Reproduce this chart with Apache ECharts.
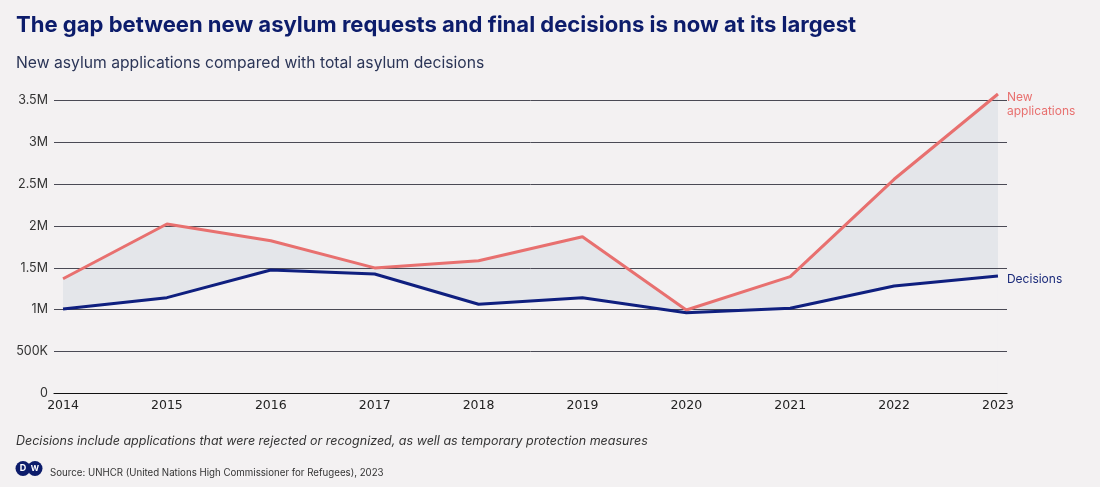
<!DOCTYPE html>
<html>
<head>
<meta charset="utf-8">
<script src="https://cdn.jsdelivr.net/npm/echarts@6/dist/echarts.min.js"></script>
<style>
html,body{margin:0;padding:0;background:#f3f1f2;}
#c{width:1100px;height:487px;}
</style>
</head>
<body>
<div id="c"></div>
<script>
// Data (values in millions)
const years = [2014, 2015, 2016, 2017, 2018, 2019, 2020, 2021, 2022, 2023];
const newApplications = [1.37, 2.025, 1.825, 1.50, 1.586, 1.873, 0.996, 1.395, 2.56, 3.58];
const decisions = [1.008, 1.144, 1.475, 1.427, 1.065, 1.144, 0.964, 1.017, 1.283, 1.403];
const yTicks = [0, 0.5, 1, 1.5, 2, 2.5, 3, 3.5];
const yTickLabels = ['0', '500K', '1M', '1.5M', '2M', '2.5M', '3M', '3.5M'];

const titleText = 'The gap between new asylum requests and final decisions is now at its largest';
const subtitleText = 'New asylum applications compared with total asylum decisions';
const noteText = 'Decisions include applications that were rejected or recognized, as well as temporary protection measures';
const sourceText = 'Source: UNHCR (United Nations High Commissioner for Refugees), 2023';

const RED = '#e8706f';
const NAVY = '#0f1f7f';
const BG = '#f3f1f2';
const BAND = '#e4e6ea';
const FONT = 'Inter, "Noto Sans", sans-serif';

const appPairs = years.map((y, i) => [y, newApplications[i]]);
const decPairs = years.map((y, i) => [y, decisions[i]]);

const chart = echarts.init(document.getElementById('c'), null, {renderer: 'canvas'});
const pad = 0.087;
chart.setOption({
  backgroundColor: BG,
  animation: false,
  textStyle: {fontFamily: FONT},
  title: [
    {text: titleText, left: 16, top: 14, padding: 0, textStyle: {fontFamily: FONT, fontSize: 22.05, fontWeight: 'bold', color: '#0c1c6b'}},
    {text: subtitleText, left: 16, top: 55, padding: 0, textStyle: {fontFamily: FONT, fontSize: 15.7, fontWeight: 'normal', color: '#2b3557'}},
    {text: noteText, left: 16, top: 435, padding: 0, textStyle: {fontFamily: FONT, fontSize: 12.5, fontStyle: 'italic', fontWeight: 'normal', color: '#333'}},
    {text: sourceText, left: 50, top: 468, padding: 0, textStyle: {fontFamily: FONT, fontSize: 9.7, fontWeight: 'normal', color: '#333'}}
  ],
  graphic: [
    {type: 'circle', shape: {cx: 23, cy: 468.5, r: 7.5}, style: {fill: '#0c1c6b'}},
    {type: 'circle', shape: {cx: 35, cy: 468.5, r: 7.5}, style: {fill: '#0c1c6b'}},
    {type: 'text', x: 23, y: 468.5, style: {text: 'D', fill: '#fff', font: 'bold 9px ' + FONT, align: 'center', verticalAlign: 'middle'}},
    {type: 'text', x: 35, y: 468.5, style: {text: 'W', fill: '#fff', font: 'bold 8px ' + FONT, align: 'center', verticalAlign: 'middle'}}
  ],
  grid: {left: 54, right: 93, top: 100.7, bottom: 93.7, containLabel: false},
  xAxis: {
    type: 'value',
    min: years[0] - pad,
    max: years[years.length - 1] + pad,
    z: 2,
    axisLine: {show: true, lineStyle: {color: '#111', width: 1.2}},
    axisTick: {show: false},
    splitLine: {show: false},
    axisLabel: {
      customValues: years,
      formatter: v => String(v),
      color: '#222', fontSize: 12.5, fontFamily: '"DejaVu Sans", sans-serif', margin: 6
    }
  },
  yAxis: {
    type: 'value',
    min: 0, max: 3.5, interval: 0.5,
    z: 2,
    axisLine: {show: false},
    axisTick: {show: false},
    splitLine: {show: true, lineStyle: {color: '#4a4a55', width: 1}},
    axisLabel: {
      formatter: v => { const i = yTicks.findIndex(t => Math.abs(t - v) < 1e-9); return i >= 0 ? yTickLabels[i] : ''; },
      color: '#333', fontSize: 12.5, margin: 6
    }
  },
  series: [
    {type: 'line', name: 'bandTop', data: appPairs, symbol: 'none', clip: false, lineStyle: {opacity: 0},
     areaStyle: {color: BAND, opacity: 1}, z: 1, silent: true},
    {type: 'line', name: 'bandBottom', data: decPairs, symbol: 'none', clip: false, lineStyle: {opacity: 0},
     areaStyle: {color: BG, opacity: 1}, z: 1, silent: true},
    {type: 'line', name: 'New applications', data: appPairs, symbol: 'none', z: 3, clip: false,
     lineStyle: {color: RED, width: 3}, itemStyle: {color: RED},
     endLabel: {show: true, formatter: 'New\napplications', color: RED, fontSize: 12, lineHeight: 14, align: 'left', offset: [1, 10], fontFamily: FONT}},
    {type: 'line', name: 'Decisions', data: decPairs, symbol: 'none', z: 3, clip: false,
     lineStyle: {color: NAVY, width: 3}, itemStyle: {color: NAVY},
     endLabel: {show: true, formatter: 'Decisions', color: '#1a2a7a', fontSize: 12, align: 'left', offset: [1, 3], fontFamily: FONT}}
  ]
});
</script>
</body>
</html>
